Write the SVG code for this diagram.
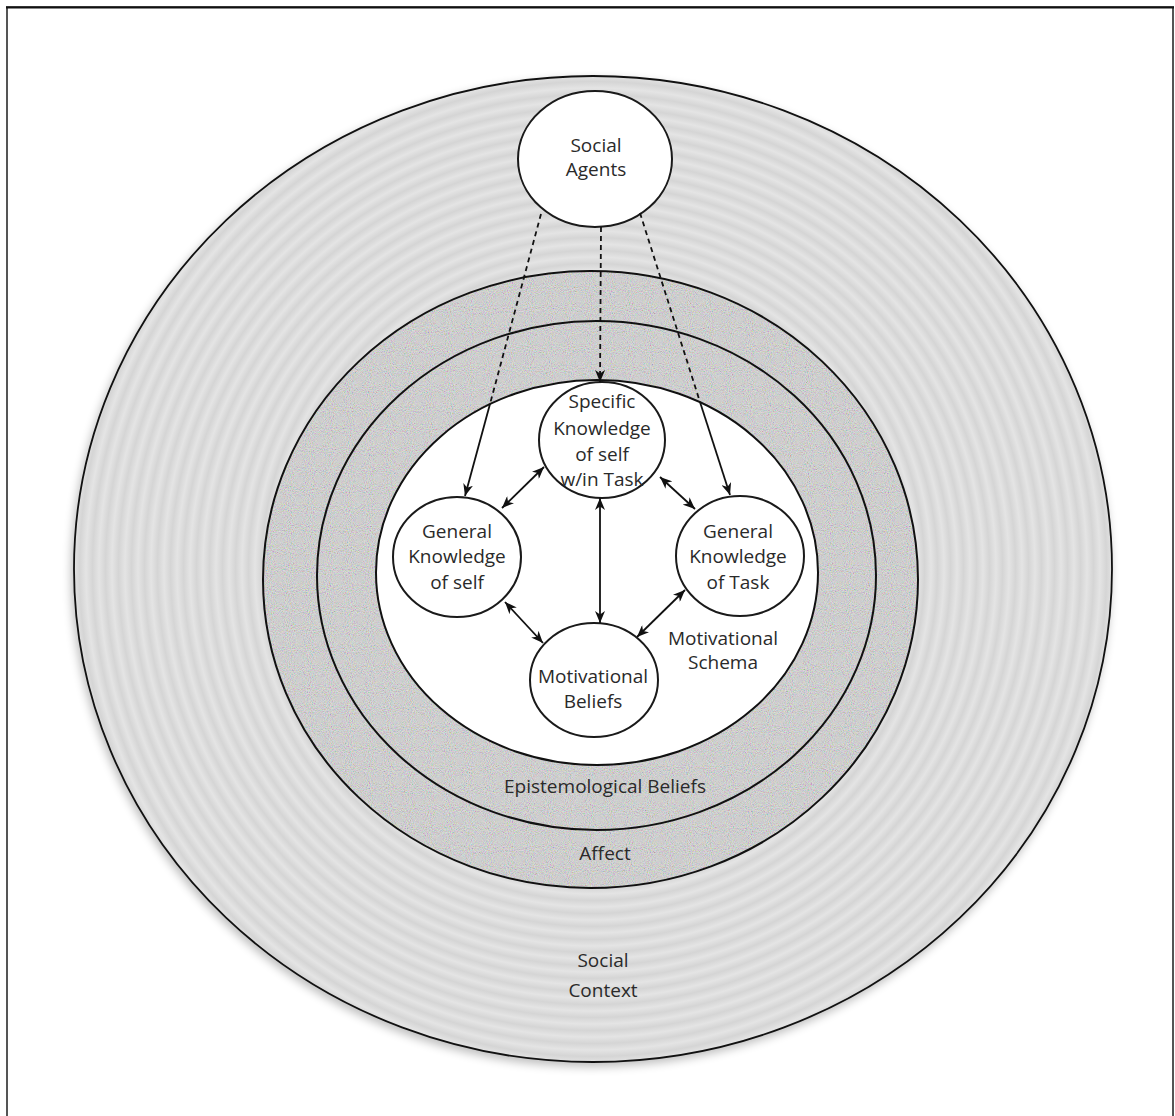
<svg xmlns="http://www.w3.org/2000/svg" width="1175" height="1116" viewBox="0 0 1175 1116">
<style>
.t{font-family:"Open Sans","Liberation Sans",sans-serif;font-size:19px;fill:#2a2a2a;text-anchor:middle}
.ring{stroke:#111;stroke-width:2}
.node{fill:#fff;stroke:#1a1a1a;stroke-width:2}
.c{stroke:#111;stroke-width:1.8;fill:none}
.d{stroke-dasharray:5 4}
</style>
<defs>
<radialGradient id="ripple" gradientUnits="userSpaceOnUse" cx="593" cy="569" r="13" spreadMethod="repeat">
<stop offset="0" stop-color="#e4e4e4"/>
<stop offset="0.5" stop-color="#d5d5d5"/>
<stop offset="1" stop-color="#e4e4e4"/>
</radialGradient>
<filter id="noise" x="0" y="0" width="100%" height="100%">
<feTurbulence type="fractalNoise" baseFrequency="0.95" numOctaves="2" seed="4" result="n"/>
<feColorMatrix in="n" type="matrix" values="1.6 0 0 0 -0.3  0 1.6 0 0 -0.3  0 0 1.6 0 -0.3  0 0 0 0 1"/>
</filter>
<filter id="shadow" x="-10%" y="-10%" width="120%" height="120%">
<feGaussianBlur stdDeviation="5"/>
</filter>
<clipPath id="affectClip"><ellipse cx="590.5" cy="579.5" rx="327.5" ry="308.5"/></clipPath>
<marker id="ah" viewBox="0 0 12 10" refX="12" refY="5" markerWidth="12" markerHeight="10" markerUnits="userSpaceOnUse" orient="auto-start-reverse">
<path d="M0,0 L12,5 L0,10 L3.5,5 z" fill="#111"/>
</marker>
</defs>
<rect x="0" y="0" width="1175" height="1116" fill="#fff"/>
<g id="frame">
<rect x="7" y="7" width="1166" height="1130" fill="none" stroke="#555" stroke-width="2"/>
<line x1="6" y1="7.5" x2="1174" y2="7.5" stroke="#111" stroke-width="2"/>
</g>
<g id="social-context">
<ellipse cx="591" cy="573" rx="520" ry="494" fill="#000" opacity="0.25" filter="url(#shadow)"/>
<ellipse cx="593" cy="569" rx="519" ry="493" fill="url(#ripple)" stroke="#111" stroke-width="1.8"/>
<text class="t" x="603" y="967">Social</text>
<text class="t" x="603" y="997">Context</text>
</g>
<g id="affect">
<ellipse cx="590.5" cy="579.5" rx="327.5" ry="308.5" fill="#d6d6d6"/>
<g clip-path="url(#affectClip)">
<rect x="262" y="270" width="658" height="620" filter="url(#noise)" opacity="0.3"/>
</g>
<ellipse class="ring" cx="590.5" cy="579.5" rx="327.5" ry="308.5" fill="none"/>
<text class="t" x="605" y="860">Affect</text>
</g>
<g id="epistemological-beliefs">
<ellipse class="ring" cx="596.5" cy="575.5" rx="279.5" ry="254.5" fill="none"/>
<text class="t" x="605" y="793">Epistemological Beliefs</text>
</g>
<g id="motivational-schema">
<ellipse class="ring" cx="597" cy="572.5" rx="221" ry="192.5" fill="#fff"/>
<text class="t" x="723" y="645">Motivational</text>
<text class="t" x="723" y="669">Schema</text>
</g>
<g id="social-agents">
<ellipse class="node" cx="595" cy="159" rx="77" ry="68"/>
<text class="t" x="596" y="152">Social</text>
<text class="t" x="596" y="176">Agents</text>
</g>
<g id="specific-knowledge">
<ellipse class="node" cx="602" cy="440" rx="63" ry="58"/>
<text class="t" x="602" y="408">Specific</text>
<text class="t" x="602" y="435">Knowledge</text>
<text class="t" x="602" y="461">of self</text>
<text class="t" x="602" y="486">w/in Task</text>
</g>
<g id="general-knowledge-self">
<ellipse class="node" cx="457" cy="557" rx="64" ry="60"/>
<text class="t" x="457" y="538">General</text>
<text class="t" x="457" y="563">Knowledge</text>
<text class="t" x="457" y="589">of self</text>
</g>
<g id="general-knowledge-task">
<ellipse class="node" cx="740" cy="556" rx="64" ry="60"/>
<text class="t" x="738" y="538">General</text>
<text class="t" x="738" y="563">Knowledge</text>
<text class="t" x="738" y="589">of Task</text>
</g>
<g id="motivational-beliefs">
<ellipse class="node" cx="594" cy="680" rx="64" ry="57"/>
<text class="t" x="593" y="683">Motivational</text>
<text class="t" x="593" y="708">Beliefs</text>
</g>
<g id="connectors">
<line class="c d" x1="541" y1="214" x2="490" y2="404"/>
<line class="c" x1="490" y1="404" x2="465" y2="496" marker-end="url(#ah)"/>
<line class="c d" x1="601" y1="227" x2="600" y2="382" marker-end="url(#ah)"/>
<line class="c d" x1="640" y1="213" x2="700" y2="402"/>
<line class="c" x1="700" y1="402" x2="730" y2="495" marker-end="url(#ah)"/>
<line class="c" x1="502" y1="508" x2="544" y2="467" marker-start="url(#ah)" marker-end="url(#ah)"/>
<line class="c" x1="660" y1="477" x2="695" y2="509" marker-start="url(#ah)" marker-end="url(#ah)"/>
<line class="c" x1="600" y1="498" x2="600" y2="623" marker-start="url(#ah)" marker-end="url(#ah)"/>
<line class="c" x1="505" y1="602" x2="543" y2="643" marker-start="url(#ah)" marker-end="url(#ah)"/>
<line class="c" x1="685" y1="590" x2="637" y2="637" marker-start="url(#ah)" marker-end="url(#ah)"/>
</g>
</svg>
